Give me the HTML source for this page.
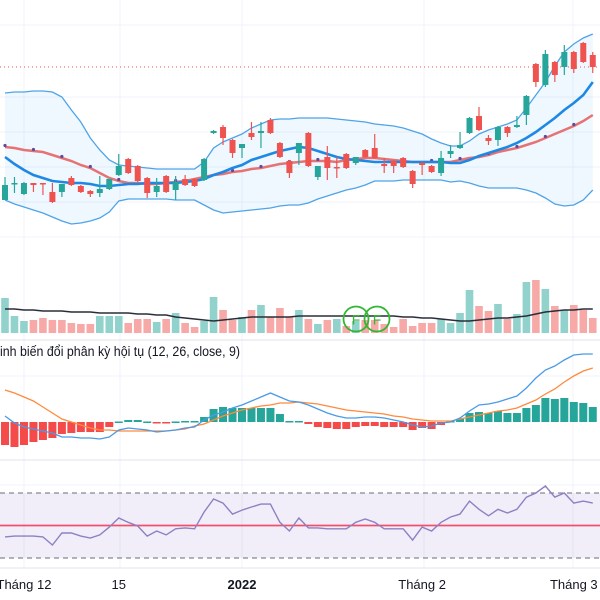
<!DOCTYPE html>
<html><head><meta charset="utf-8"><style>
html,body{margin:0;padding:0;background:#fff;overflow:hidden}
svg{display:block;font-family:"Liberation Sans","DejaVu Sans",sans-serif}
</style></head><body>
<svg id="chart" width="600" height="600" viewBox="0 0 600 600" xmlns="http://www.w3.org/2000/svg">
<rect width="600" height="600" fill="#fff"/>
<g id="grid"></g>
<g id="main"></g>
<g id="vol"></g>
<g id="macd"></g>
<g id="rsi"></g>
<g id="axis"></g>
</svg>
<script>
const openP=[100,116,106,117,117,108,108,122,114,109,107,111,125,141,134,122,108,124,110,121,121,120,167,173,160,152,167,167,180,157,139,147,167,123,143,133,146,137,150,152,136,139,142,129,137,134,127,146,152,167,184,162,160,173,173,185,236,215,238,233,248,257,245];
const closeP=[115,117,117,115,116,98,116,115,108,106,111,121,134,127,119,107,114,108,118,115,114,141,169,162,147,156,163,169,167,143,127,157,134,134,132,132,132,143,143,142,134,134,133,116,135,128,142,149,155,182,170,159,173,167,175,204,218,246,225,248,231,238,233];
const highP=[123,123,118,117,117,117,116,124,115,110,124,121,146,142,135,123,122,125,124,125,122,142,170,175,161,156,178,178,182,158,140,157,168,134,154,143,147,143,151,166,142,140,143,130,138,135,149,155,168,183,193,165,174,174,184,205,237,250,239,255,249,258,248];
const lowP=[100,107,105,108,105,97,103,114,107,103,103,110,124,126,118,102,103,107,100,114,113,119,166,155,142,142,160,152,166,142,122,135,133,120,120,122,131,135,142,141,127,127,132,112,125,127,124,142,151,166,169,155,154,163,172,175,213,213,218,225,227,237,227];
const bbUpper=[207,208,208,209,209,208,203,190,178,162,150,140,135,134,133,132,131,131,131,131,131,138,152,158,162,166,172,176,180,181,181,182,182,182,182,181,180,179,178,176,175,174,172,169,166,161,157,154,154,159,166,170,173,176,180,192,205,218,234,248,256,262,266];
const bbLower=[100,96,93,90,87,83,79,76,77,79,82,88,99,101,101,101,101,101,100,100,100,95,90,87,88,89,90,91,92,94,95,95,97,101,104,107,110,112,115,119,119,119,120,120,120,120,120,118,119,117,114,112,112,112,112,110,107,102,96,94,95,100,110];
const bbMid=[143,136,130,125,122,119,118,117,117,116,114,114,115,116,116,117,117,117,117,118,119,121,125,128,132,135,140,143,146,149,151,153,152,149,146,143,141,140,139,138,138,138,138,138,138,138,138,137,137,140,144,147,150,153,157,162,168,175,182,190,197,205,218];
const maLine=[153,152,150,149,148,145,142,139,135,132,127,122,119,117,117,116,116,117,118,119,121,123,125,126,128,129,131,132,134,136,137,138,139,139,139,138,140,141,142,142,141,140,139,138,138,138,138,138,140,142,143,145,148,150,152,155,158,162,166,170,174,179,185];
const volume=[35,17,12,13,15,13,13,10,9,9,17,17,17,10,14,14,11,14,20,10,6,12,36,23,13,16,23,28,16,25,16,23,14,9,13,14,7,12,13,13,9,6,14,7,10,10,14,10,20,43,27,22,29,14,19,51,53,44,27,23,28,23,15];
const volUp=[1,1,1,0,0,0,0,0,0,0,1,1,1,0,0,0,1,0,1,0,0,1,1,0,0,1,0,1,0,0,0,1,0,1,0,1,0,1,0,0,0,0,0,0,0,0,1,1,1,1,0,0,1,0,1,1,0,1,0,1,0,0,0];
const volMA=[24,24,23,23,22,22,22,21,21,21,20,20,20,20,19,19,18,18,16,15,14,13,12,13,14,15,16,16,16,16,16,17,17,17,17,17,17,17,17,17,17,17,16,16,15,15,14,13,12,12,13,14,15,15,16,17,19,21,22,23,23,24,24];
const macdHist=[-2.3,-2.5,-2.3,-2.0,-1.8,-1.6,-1.2,-1.1,-1.0,-1.0,-1.0,-0.5,0.05,0.2,0.2,0.05,-0.1,-0.1,0.05,0.1,0.1,0.5,1.3,1.5,1.4,1.4,1.4,1.4,1.4,0.8,0.1,0.1,-0.2,-0.5,-0.6,-0.7,-0.7,-0.5,-0.4,-0.4,-0.5,-0.5,-0.5,-0.8,-0.6,-0.7,-0.3,0.1,0.3,0.9,1.0,0.9,1.1,0.9,0.9,1.4,1.7,2.4,2.3,2.4,2.0,1.9,1.5];
const macdLine=[0.6,-0.1,-0.5,-0.7,-0.9,-1.1,-1.5,-1.5,-1.6,-1.6,-1.7,-1.5,-0.8,-0.6,-0.7,-0.8,-1.0,-0.9,-0.8,-0.6,-0.5,0.2,0.7,1.0,1.4,1.7,2.1,2.5,2.9,2.5,2.1,2.0,1.7,1.3,0.9,0.6,0.4,0.4,0.5,0.5,0.4,0.2,0,-0.3,-0.5,-0.4,-0.1,0,0.4,1.1,1.7,1.8,2.0,2.3,2.6,3.4,4.4,5.2,5.6,6.2,6.7,6.8,6.8];
const signalLine=[3.2,2.9,2.5,2.1,1.5,0.9,0.3,0,-0.3,-0.6,-0.8,-0.8,-0.9,-0.9,-0.9,-0.9,-0.9,-0.9,-0.8,-0.7,-0.4,-0.2,0.2,0.6,0.9,1.2,1.4,1.6,1.7,1.9,1.9,2.0,1.9,1.8,1.6,1.4,1.2,1.1,1.0,0.9,0.8,0.6,0.5,0.3,0.2,0.1,0.1,0.1,0.3,0.5,0.7,0.9,1.1,1.2,1.4,1.8,2.2,2.8,3.3,4.0,4.6,5.1,5.4];
const rsiVals=[43,43.5,43.5,43.5,43,38,45.4,45.4,43.5,42.3,44.2,49,54.6,52,49.7,43.5,46.6,44.2,48,48.5,48,58.3,66.3,63.8,57,59.5,61.4,63.2,63.2,52,46.6,54.6,48.5,48.5,48,48,48,52,54,52,48,48,48,41,49,46.6,52,55.2,57,65,60,56,60,57.7,60,67.4,70,74.3,67.4,70,63.8,65,63.8];
const tickLabels=["Tháng 12","15","2022","Tháng 2","Tháng 3"];
const tickIdx=[2,12,25,44,60];
const tickBold=[0,0,1,0,0];
const refPrice=233;

const NS="http://www.w3.org/2000/svg";
function mk(tag,attrs,parent){const e=document.createElementNS(NS,tag);for(const k in attrs)e.setAttribute(k,attrs[k]);parent.appendChild(e);return e;}
const X=i=>5+i*9.48;
const Y=p=>300-p;
const YV=v=>333-v;
const YM=v=>422-v*10;
const YR=v=>525.5-(v-50)*1.625;
const g=id=>document.getElementById(id);
function path(arr,f){return arr.map((v,i)=>(i?'L':'M')+X(i).toFixed(1)+' '+f(v).toFixed(1)).join(' ');}

// grid
const grid=g('grid');
[25,97,132,167,202,237,376,485].forEach(y=>{const l=mk('line',{x1:0,x2:600,y1:y,y2:y,stroke:'#f0f3fa','stroke-width':1},grid);});
[24,120,242,424,573].forEach(x=>{const l=mk('line',{x1:x,x2:x,y1:0,y2:568,stroke:'#f0f3fa','stroke-width':1},grid);});
[340,460,568].forEach(y=>{const l=mk('line',{x1:0,x2:600,y1:y,y2:y,stroke:'#e0e3eb','stroke-width':1},grid);});

// main
const main=g('main');
let area=path(bbUpper,Y)+' '+bbLower.map((v,i)=>'L'+X(i).toFixed(1)+' '+Y(v).toFixed(1)).reverse().join(' ')+'Z';
let e=mk('path',{d:area,fill:'#2196f3','fill-opacity':0.07},main);

e=mk('path',{d:path(bbUpper,Y),fill:'none',stroke:'#4fa3e8','stroke-width':1.3},main);

e=mk('path',{d:path(bbLower,Y),fill:'none',stroke:'#4fa3e8','stroke-width':1.3},main);

e=mk('line',{x1:0,x2:600,y1:Y(refPrice),y2:Y(refPrice),stroke:'#ef5350','stroke-width':1,'stroke-dasharray':'1 3'},main);

e=mk('path',{d:path(maLine,Y),fill:'none',stroke:'#e57373','stroke-width':2.5},main);

maLine.forEach((v,i)=>{if(i%3!==0)return;const c=mk('circle',{cx:X(i),cy:Y(v)-1.5,r:1.6,fill:'#5e4ba0'},main);});
e=mk('path',{d:path(bbMid,Y),fill:'none',stroke:'#1e88e5','stroke-width':2.6},main);

openP.forEach((o,i)=>{const c=closeP[i];const col=c>=o?'#26a69a':'#ef5350';
 const w=mk('line',{x1:X(i),x2:X(i),y1:Y(highP[i]),y2:Y(lowP[i]),stroke:col,'stroke-width':1.2},main);
 
 const top=Y(Math.max(o,c)),h=Math.max(1.5,Math.abs(o-c));
 const b=mk('rect',{x:X(i)-3,y:top,width:6,height:h,fill:col},main);
 });

// volume
const vol=g('vol');
volume.forEach((v,i)=>{const r=mk('rect',{x:X(i)-3.8,y:YV(v),width:7.6,height:v,fill:volUp[i]?'#92d2cc':'#f7a9a7'},vol);
 });
e=mk('path',{d:path(volMA,YV),fill:'none',stroke:'#2a2e39','stroke-width':1.5},vol);

[[356,'F'],[377,'F']].forEach(([cx,t])=>{const c=mk('circle',{cx:cx,cy:319,r:12.5,fill:'none',stroke:'#33b633','stroke-width':1.8},vol);
 
 const tx=mk('text',{x:cx,y:324.5,'text-anchor':'middle','font-size':14,fill:'#33b633'},vol);tx.textContent=t;
 });

// macd
const macd=g('macd');
e=mk('text',{x:0,y:356,'font-size':13.5,fill:'#131722',textLength:240,lengthAdjust:'spacingAndGlyphs'},macd);
e.textContent='inh biến đổi phân kỳ hội tụ (12, 26, close, 9)';

macdHist.forEach((v,i)=>{const y0=YM(0),y1=YM(v);const r=mk('rect',{x:X(i)-4,y:Math.min(y0,y1),width:8,height:Math.max(1.5,Math.abs(y1-y0)),fill:v>=0?'#26a69a':'#f44a4a'},macd);
 });
e=mk('path',{d:path(signalLine,YM),fill:'none',stroke:'#ff8a3d','stroke-width':1.3},macd);

e=mk('path',{d:path(macdLine,YM),fill:'none',stroke:'#4a9ae8','stroke-width':1.3},macd);


// rsi
const rsi=g('rsi');
e=mk('rect',{x:0,y:YR(70),width:600,height:YR(30)-YR(70),fill:'#7e57c2','fill-opacity':0.1},rsi);

[70,30].forEach(v=>{const l=mk('line',{x1:0,x2:600,y1:YR(v),y2:YR(v),stroke:'#868993','stroke-width':1.2,'stroke-dasharray':'5 4'},rsi);
 });
e=mk('line',{x1:0,x2:600,y1:YR(50),y2:YR(50),stroke:'#f0506e','stroke-width':1.8},rsi);

e=mk('path',{d:path(rsiVals,YR),fill:'none',stroke:'#8e80c2','stroke-width':1.4},rsi);


// axis
const axis=g('axis');
tickLabels.forEach((t,i)=>{const x=Math.min(578,Math.max(20,X(tickIdx[i])));const tx=mk('text',{x:x,y:589,'text-anchor':'middle','font-size':13,fill:'#131722','font-weight':tickBold[i]?'bold':'normal'},axis);
 tx.textContent=t;});
</script>
</body></html>
